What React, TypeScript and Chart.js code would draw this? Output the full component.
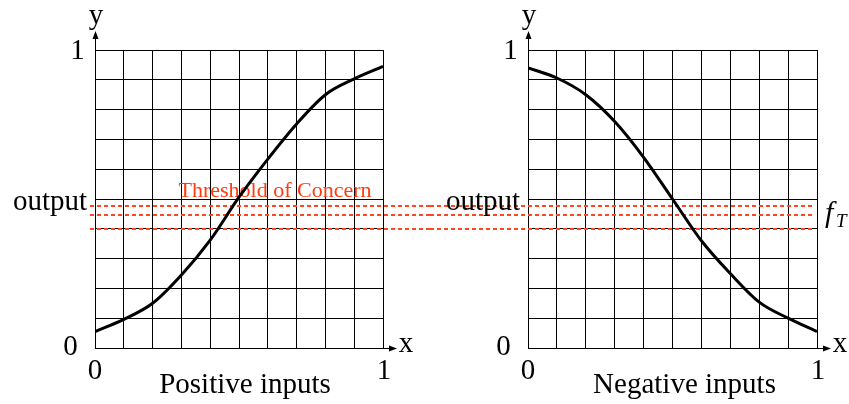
import React, { useEffect, useRef } from "react";
import { Chart, registerables } from "chart.js";

Chart.register(...registerables);

// ---- data ----
const xValues = [0, 0.1, 0.2, 0.3, 0.4, 0.5, 0.6, 0.7, 0.8, 0.9, 1.0];
const positiveOutput = [0.055, 0.096, 0.15, 0.245, 0.362, 0.506, 0.634, 0.752, 0.85, 0.903, 0.945];
const negativeOutput = [0.94, 0.906, 0.85, 0.76, 0.64, 0.5, 0.36, 0.25, 0.154, 0.1, 0.055];
const thresholdLevels = [0.478, 0.447, 0.4];
const xTickLabels = ["0", "1"];
const yTickLabels = ["0", "1"];
const panelTitles = ["Positive inputs", "Negative inputs"];
const outputLabel = "output";
const thresholdLabel = "Threshold of Concern";
const fLabel = "f";
const fSubLabel = "T";
const axisNames = ["x", "y"];

const SERIF = "'Liberation Serif', 'Times New Roman', serif";
const RED_TEXT = "#ff3a10";
const RED_DASH = "#ff4522";

const decorPlugin = {
  id: "panelDecor",
  beforeDatasetsDraw(chart: any, _args: any, o: any) {
    const { ctx, chartArea: a, scales } = chart;
    const x = scales.x;
    const y = scales.y;
    ctx.save();
    // threshold dashed lines
    ctx.strokeStyle = RED_DASH;
    ctx.lineWidth = 2;
    ctx.setLineDash([4, 3]);
    const x0 = o.side === "left" ? a.left - 5 : 0;
    const x1 = o.side === "left" ? chart.width : a.right - 4;
    thresholdLevels.forEach((v) => {
      const py = Math.round(y.getPixelForValue(v));
      ctx.beginPath();
      ctx.moveTo(x0, py);
      ctx.lineTo(x1, py);
      ctx.stroke();
    });
    ctx.setLineDash([]);

    // axis arrows
    ctx.strokeStyle = "#000";
    ctx.fillStyle = "#000";
    ctx.lineWidth = 1;
    const lx = Math.round(a.left) + 0.5;
    const top = a.top;
    ctx.beginPath();
    ctx.moveTo(lx, top);
    ctx.lineTo(lx, top - 14);
    ctx.stroke();
    ctx.beginPath();
    ctx.moveTo(lx, top - 19);
    ctx.lineTo(lx - 3, top - 11);
    ctx.lineTo(lx + 3, top - 11);
    ctx.closePath();
    ctx.fill();
    const by = Math.round(a.bottom) + 0.5;
    const right = a.right;
    ctx.beginPath();
    ctx.moveTo(right, by);
    ctx.lineTo(right + 8, by);
    ctx.stroke();
    ctx.beginPath();
    ctx.moveTo(right + 14, by);
    ctx.lineTo(right + 6, by - 3);
    ctx.lineTo(right + 6, by + 3);
    ctx.closePath();
    ctx.fill();

    // texts
    ctx.font = `29px ${SERIF}`;
    ctx.textAlign = "center";
    ctx.textBaseline = "middle";
    const y0 = y.getPixelForValue(0);
    const y1 = y.getPixelForValue(1);
    ctx.fillText(yTickLabels[1], a.left - 17.5, y1 + 1);
    ctx.fillText(yTickLabels[0], a.left - 24.5, y0 - 1);
    ctx.fillText(xTickLabels[0], x.getPixelForValue(0), a.bottom + 23);
    ctx.fillText(xTickLabels[1], x.getPixelForValue(1) + 1, a.bottom + 23);
    ctx.fillText(axisNames[0], a.right + 23, a.bottom - 4);
    ctx.fillText(axisNames[1], a.left + 1, 16);
    ctx.fillText(o.title, (a.left + a.right) / 2 + o.titleShift, a.bottom + 37);

    ctx.textAlign = "right";
    const topDash = y.getPixelForValue(thresholdLevels[0]);
    ctx.fillText(outputLabel, a.left - 8, topDash - 3);

    if (o.side === "left") {
      ctx.font = `22px ${SERIF}`;
      ctx.fillStyle = RED_TEXT;
      ctx.textAlign = "center";
      ctx.textBaseline = "alphabetic";
      ctx.fillText(thresholdLabel, (a.left + a.right) / 2 + 36, topDash - 9);
    } else {
      ctx.fillStyle = "#000";
      ctx.textAlign = "left";
      ctx.textBaseline = "alphabetic";
      ctx.font = `italic 30px ${SERIF}`;
      const fy = y.getPixelForValue(thresholdLevels[1]) + 7;
      ctx.fillText(fLabel, a.right + 8, fy);
      ctx.font = `italic 19px ${SERIF}`;
      ctx.fillText(fSubLabel, a.right + 19, fy + 5);
    }
    ctx.restore();
  },
};

function makeChart(canvas: HTMLCanvasElement, values: number[], side: string, title: string, titleShift: number, padding: any) {
  const zeroSize = (scale: any) => {
    if (scale.isHorizontal()) scale.height = 0;
    else scale.width = 0;
  };
  const gridOpts = { color: "#000", lineWidth: 1, drawTicks: false };
  return new Chart(canvas, {
    type: "line",
    data: {
      datasets: [
        {
          data: xValues.map((v, i) => ({ x: v, y: values[i] })),
          borderColor: "#000",
          borderWidth: 3,
          pointRadius: 0,
          cubicInterpolationMode: "monotone",
          fill: false,
        },
      ],
    },
    options: {
      animation: false,
      responsive: false,
      events: [],
      layout: { padding },
      plugins: {
        legend: { display: false },
        tooltip: { enabled: false },
        panelDecor: { side, title, titleShift },
      } as any,
      scales: {
        x: {
          type: "linear",
          min: 0,
          max: 1,
          ticks: { display: false, stepSize: 0.1 },
          grid: gridOpts,
          border: { color: "#000", width: 1 },
          afterFit: zeroSize,
        },
        y: {
          type: "linear",
          min: 0,
          max: 1,
          ticks: { display: false, stepSize: 0.1 },
          grid: gridOpts,
          border: { color: "#000", width: 1 },
          afterFit: zeroSize,
        },
      },
    } as any,
    plugins: [decorPlugin],
  });
}

export default function App() {
  const leftRef = useRef<HTMLCanvasElement>(null);
  const rightRef = useRef<HTMLCanvasElement>(null);

  useEffect(() => {
    const c1 = makeChart(leftRef.current!, positiveOutput, "left", panelTitles[0], 6, {
      left: 95,
      right: 47,
      top: 50,
      bottom: 56,
    });
    const c2 = makeChart(rightRef.current!, negativeOutput, "right", panelTitles[1], 12, {
      left: 98,
      right: 32,
      top: 50,
      bottom: 56,
    });
    return () => {
      c1.destroy();
      c2.destroy();
    };
  }, []);

  return (
    <div style={{ position: "absolute", left: 0, top: 0, width: 849, height: 404, background: "#fff" }}>
      <canvas ref={leftRef} width={430} height={404} style={{ position: "absolute", left: 0, top: 0 }} />
      <canvas ref={rightRef} width={419} height={404} style={{ position: "absolute", left: 430, top: 0 }} />
    </div>
  );
}
